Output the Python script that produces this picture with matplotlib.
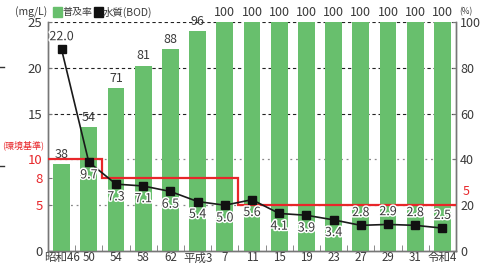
import matplotlib
matplotlib.use("Agg")
import matplotlib.pyplot as plt
import matplotlib.patheffects as pe
from matplotlib.lines import Line2D
import numpy as np

plt.rcParams['font.family'] = ['Noto Sans CJK JP', 'DejaVu Sans']

categories = ["昭和46", "50", "54", "58", "62", "平成3", "7", "11", "15", "19", "23", "27", "29", "31", "令和4"]
coverage = [38, 54, 71, 81, 88, 96, 100, 100, 100, 100, 100, 100, 100, 100, 100]
bod = [22.0, 9.7, 7.3, 7.1, 6.5, 5.4, 5.0, 5.6, 4.1, 3.9, 3.4, 2.8, 2.9, 2.8, 2.5]
std_values = [10, 8, 5]
std_start_idx = [0, 2, 7]   # first category index of each standard period

GREEN = '#68bf6d'
RED = '#e8262a'
TXT = '#3a3a3a'
SPINE = '#777777'

fig = plt.figure(figsize=(4.81, 2.64), dpi=100)
rect = [48/481, 13/264, 408/481, 229/264]
ax = fig.add_axes(rect)
ax2 = ax.twinx()
ax.set_zorder(2)
ax2.set_zorder(1)
ax.patch.set_visible(False)

x = np.arange(len(categories))
n = len(categories)

# bars on percent axis
ax2.bar(x, coverage, width=0.62, color=GREEN, zorder=3)
for xi, v in zip(x, coverage):
    ax2.annotate(str(v), (xi, v), xytext=(0, 2.5), textcoords='offset points',
                 ha='center', va='bottom', fontsize=9, color=TXT)
# grid lines
for g in [100, 80, 60]:
    ax2.axhline(g, color='#222222', lw=0.8, ls=(0, (3, 2.5)), zorder=1)
for g in [40, 20]:
    ax2.axhline(g, color='#888888', lw=0.9, ls=(0, (1.5, 3)), zorder=1)
ax2.set_ylim(0, 100)
ax2.set_yticks([0, 20, 40, 60, 80, 100])
ax2.tick_params(axis='y', direction='in', length=3, color=SPINE, labelsize=9,
                labelcolor=TXT, pad=3)

# environmental standard step line
sx, sy = [], []
bounds = std_start_idx + [n]
for k, val in enumerate(std_values):
    sx += [bounds[k] - 0.5, bounds[k + 1] - 0.5]
    sy += [val, val]
ax.plot(sx, sy, color=RED, lw=1.6, zorder=4, solid_joinstyle='miter')

# BOD line
ax.plot(x, bod, color='#1a1a1a', lw=1.2, marker='s', markersize=6.3,
        markerfacecolor='#111111', markeredgecolor='#111111', zorder=5)
label_above = [True] + [False] * 10 + [True] * 4
for xi, v, up in zip(x, bod, label_above):
    if up:
        t = ax.annotate(f"{v:.1f}", (xi, v), xytext=(0, 4.5), textcoords='offset points',
                        ha='center', va='bottom', fontsize=9, color=TXT, zorder=6)
    else:
        t = ax.annotate(f"{v:.1f}", (xi, v), xytext=(0, -4.5), textcoords='offset points',
                        ha='center', va='top', fontsize=9, color=TXT, zorder=6)
    t.set_path_effects([pe.withStroke(linewidth=2.2, foreground='white')])

ax.set_xlim(-0.5, n - 0.5)
ax.set_ylim(0, 25)
lt = [0, 5, 8, 10, 15, 20, 25]
ax.set_yticks(lt)
ax.set_yticklabels([str(t) for t in lt])
ax.tick_params(axis='y', direction='in', length=3, color=SPINE, labelsize=9.5, pad=4)
for lab, t in zip(ax.get_yticklabels(), lt):
    lab.set_color(RED if t in std_values else TXT)

ax.set_xticks(x)
ax.set_xticklabels(categories)
ax.tick_params(axis='x', which='major', length=0, labelsize=8.3, labelcolor=TXT, pad=0.3)
ax.set_xticks(np.arange(n - 1) + 0.5, minor=True)
ax.tick_params(axis='x', which='minor', direction='in', length=4, color=SPINE)

for a in (ax, ax2):
    a.spines['top'].set_visible(False)
    for s in ['left', 'right', 'bottom']:
        a.spines[s].set_color(SPINE)
        a.spines[s].set_linewidth(1)

# header texts
fig.text(15/481, 1 - 12/264, "(mg/L)", fontsize=7.5, color=TXT, va='center', ha='left')
fig.patches.append(plt.Rectangle((53/481, 1 - 17/264), 9/481, 10/264, color=GREEN,
                                 transform=fig.transFigure, figure=fig))
fig.text(62/481, 1 - 12/264, "普及率", fontsize=7.2, color=TXT, va='center', ha='left')
fig.patches.append(plt.Rectangle((94/481, 1 - 17/264), 9/481, 10/264, color='#111111',
                                 transform=fig.transFigure, figure=fig))
fig.text(103/481, 1 - 12/264, "水質(BOD)", fontsize=7.5, color=TXT, va='center', ha='left')
fig.text(459/481, 1 - 12/264, "(%)", fontsize=6, color=TXT, va='center', ha='left')

fig.text(2/481, 1 - 145/264, "(環境基準)", fontsize=6.5, color=RED, va='center', ha='left')
ax.annotate("5", (1.0, 5), xycoords=('axes fraction', 'data'), xytext=(5, 5),
            textcoords='offset points', fontsize=9, color=RED, ha='left', va='bottom')

# stray marks at left edge
for yy in [67, 166]:
    fig.add_artist(Line2D([0, 4/481], [1 - yy/264] * 2, color='#333333', lw=1))

fig.savefig("out.png", dpi=100)
